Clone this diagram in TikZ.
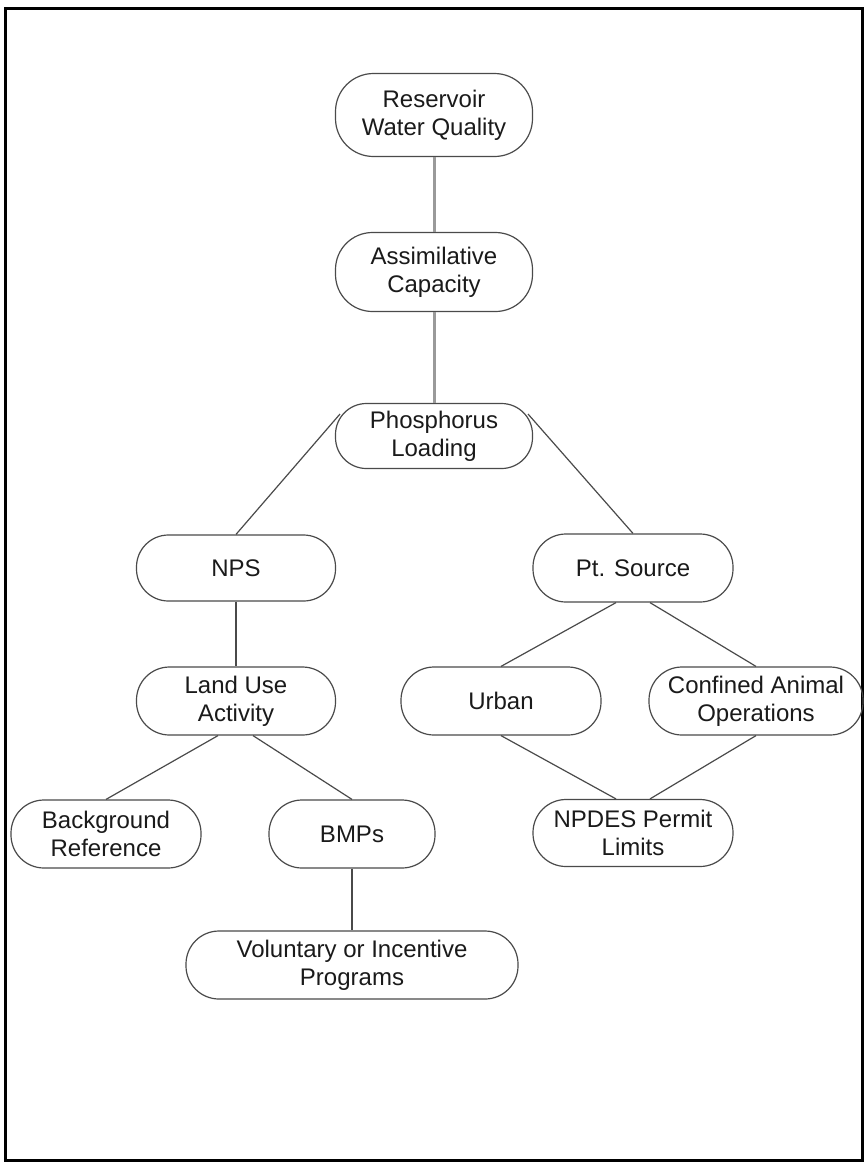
\documentclass[tikz,border=0pt]{standalone}
\usepackage{fontspec}
\setmainfont{Liberation Sans}
\definecolor{edgegray}{HTML}{4A4A4A}
\definecolor{lightlink}{HTML}{9A9A9A}
\definecolor{inkgray}{HTML}{1A1A1A}
\begin{document}
\begin{tikzpicture}[x=1pt,y=-1pt,
  box/.style n args={3}{draw=edgegray, line width=1.2pt, rounded corners=#3,
    minimum width=#1, minimum height=#2, inner sep=0pt, align=center,
    text=inkgray, font=\fontsize{24}{28}\selectfont},
  link/.style={draw=edgegray, line width=1.2pt},
  stem/.style={draw=lightlink, line width=3pt}]
\useasboundingbox (0,0) rectangle (865,1163);
% outer frame
\draw[line width=3pt, black] (5,8) rectangle (862,1160);

% nodes
\node[box={197pt}{83pt}{38pt}] (res) at (434,115) {Reservoir\\Water Quality};
\node[box={197pt}{79pt}{37pt}] (asm) at (434,272) {Assimilative\\Capacity};
\node[box={197pt}{65pt}{31pt}] (ph) at (434,436) {Phosphorus\\Loading};
\node[box={199pt}{66pt}{32pt}] (nps) at (236,568) {NPS};
\node[box={200pt}{68pt}{33pt}] (pt) at (633,568) {Pt. Source};
\node[box={199pt}{68pt}{33pt}] (land) at (236,701) {Land Use\\Activity};
\node[box={200pt}{68pt}{33pt}] (urban) at (501,701) {Urban};
\node[box={214pt}{68pt}{33pt}] (conf) at (756,701) {Confined Animal\\Operations};
\node[box={190pt}{68pt}{33pt}] (bg) at (106,834) {Background\\Reference};
\node[box={166pt}{68pt}{33pt}] (bmp) at (352,834) {BMPs};
\node[box={200pt}{67pt}{33pt}] (npdes) at (633,833) {NPDES Permit\\Limits};
\node[box={332pt}{68pt}{33pt}] (vol) at (352,965) {Voluntary or Incentive\\Programs};

% connectors
\draw[stem] (res.south) -- (asm.north);
\draw[stem] (asm.south) -- (ph.north);
\draw[link] ([xshift=-94pt,yshift=22pt]ph.center) -- (nps.north);
\draw[link] ([xshift=94pt,yshift=22pt]ph.center) -- (pt.north);
\draw[link] (nps.south) -- (land.north);
\draw[link] ([xshift=-18pt]land.south) -- (bg.north);
\draw[link] ([xshift=17pt]land.south) -- (bmp.north);
\draw[link] (bmp.south) -- (vol.north);
\draw[link] ([xshift=-17pt]pt.south) -- (urban.north);
\draw[link] ([xshift=17pt]pt.south) -- (conf.north);
\draw[link] (urban.south) -- ([xshift=-17pt]npdes.north);
\draw[link] (conf.south) -- ([xshift=17pt]npdes.north);
\end{tikzpicture}
\end{document}
